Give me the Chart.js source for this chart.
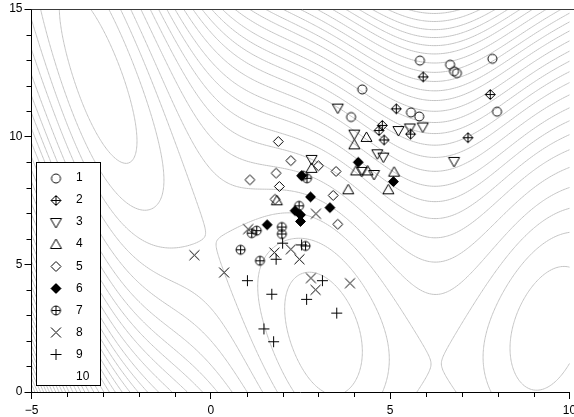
<!DOCTYPE html>
<html>
<head>
<meta charset="utf-8">
<title>Branin contours with sample groups</title>
<script src="https://cdn.jsdelivr.net/npm/chart.js@4.4.1/dist/chart.umd.min.js"></script>
<style>
  html, body { margin: 0; padding: 0; background: #fff; }
  #chart { display: block; }
</style>
</head>
<body>
<canvas id="chart" width="574" height="417"></canvas>
<script>
// sample groups
var s1x = [5.83, 6.67, 6.78, 6.86, 7.85, 4.22, 3.91, 5.58, 5.81, 7.98];
var s1y = [12.98, 12.82, 12.56, 12.49, 13.05, 11.85, 10.77, 10.95, 10.79, 10.98];
var s2x = [5.92, 7.79, 5.17, 4.78, 4.69, 4.83, 7.17, 5.57];
var s2y = [12.34, 11.65, 11.09, 10.44, 10.24, 9.87, 9.96, 10.10];
var s3x = [3.54, 4.00, 5.23, 5.55, 5.91, 2.81, 4.64, 4.81, 4.55, 6.78, 4.21];
var s3y = [11.12, 10.10, 10.24, 10.34, 10.38, 9.11, 9.33, 9.20, 8.52, 9.03, 8.64];
var s4x = [4.34, 4.00, 4.05, 4.37, 5.11, 3.83, 4.95, 2.81, 1.84];
var s4y = [9.97, 9.68, 8.66, 8.66, 8.61, 7.92, 7.92, 8.76, 7.49];
var s5x = [1.88, 2.23, 3.00, 3.49, 1.82, 1.09, 1.91, 1.79, 3.41, 3.54];
var s5y = [9.81, 9.06, 8.86, 8.64, 8.57, 8.31, 8.05, 7.55, 7.70, 6.57];
var s6x = [2.53, 4.11, 5.09, 2.78, 3.32, 2.35, 2.50, 2.50, 1.57];
var s6y = [8.47, 9.00, 8.24, 7.64, 7.22, 7.10, 6.94, 6.68, 6.55];
var s7x = [2.57, 2.68, 2.46, 1.98, 1.98, 1.14, 1.28, 0.83, 1.37, 2.64];
var s7y = [8.47, 8.37, 7.29, 6.46, 6.19, 6.22, 6.32, 5.57, 5.14, 5.72];
var s8x = [2.93, 1.04, -0.46, 0.37, 1.77, 2.23, 2.47, 2.79, 2.92, 3.88];
var s8y = [6.98, 6.38, 5.36, 4.68, 5.46, 5.59, 5.20, 4.46, 4.00, 4.26];
var s9x = [2.00, 1.82, 2.53, 1.02, 1.70, 3.11, 2.67, 3.51, 1.48, 1.75];
var s9y = [5.83, 5.20, 5.76, 4.36, 3.83, 4.36, 3.63, 3.09, 2.47, 1.97];
var s10x = [];
var s10y = [];

var seriesNames = ['1', '2', '3', '4', '5', '6', '7', '8', '9', '10'];
var seriesX = [s1x, s2x, s3x, s4x, s5x, s6x, s7x, s8x, s9x, s10x];
var seriesY = [s1y, s2y, s3y, s4y, s5y, s6y, s7y, s8y, s9y, s10y];
var markerKinds = ['circle', 'diamondPlus', 'triDown', 'triUp', 'diamond', 'diamondFill', 'circlePlus', 'cross', 'plus', 'none'];

var xTicks = [-5, 0, 5, 10];
var yTicks = [0, 5, 10, 15];
var xMinorTicks = [-4, -3, -2, -1, 1, 2, 3, 4, 6, 7, 8, 9];
var yMinorTicks = [1, 2, 3, 4, 6, 7, 8, 9, 11, 12, 13, 14];

// levels of the background contour lines
var contourLevels = [5.5, 12.5, 19.5, 27, 35.5, 44, 52, 60, 68, 76.5, 85, 93, 101, 109,
  117.5, 126, 134, 142, 150, 158.5, 167, 175, 183, 191, 199.5, 208, 216, 224, 232,
  240.5, 249, 257, 265, 273, 281.5, 290, 298, 306];

// Branin test function (the surface drawn as contours)
function branin(x1, x2) {
  var b = 5.1 / (4 * Math.PI * Math.PI);
  var c = 5 / Math.PI;
  var t = 1 / (8 * Math.PI);
  var g = x2 - b * x1 * x1 + c * x1 - 6;
  return g * g + 10 * (1 - t) * Math.cos(x1) + 10;
}

function makeMarker(kind) {
  var cv = document.createElement('canvas');
  cv.width = 15;
  cv.height = 15;
  var g = cv.getContext('2d');
  var c = 7.5;
  g.strokeStyle = '#000';
  g.fillStyle = '#000';
  g.lineWidth = 1;
  g.beginPath();
  if (kind == 'circle' || kind == 'circlePlus') {
    g.arc(c, c, 4.5, 0, Math.PI * 2);
    if (kind == 'circlePlus') {
      g.moveTo(c - 4.5, c); g.lineTo(c + 4.5, c);
      g.moveTo(c, c - 4.5); g.lineTo(c, c + 4.5);
    }
  } else if (kind == 'diamond' || kind == 'diamondFill' || kind == 'diamondPlus') {
    g.moveTo(c, c - 5); g.lineTo(c + 5, c); g.lineTo(c, c + 5); g.lineTo(c - 5, c); g.closePath();
    if (kind == 'diamondFill') g.fill();
    if (kind == 'diamondPlus') {
      g.moveTo(c - 5, c); g.lineTo(c + 5, c);
      g.moveTo(c, c - 5); g.lineTo(c, c + 5);
    }
  } else if (kind == 'triDown') {
    g.moveTo(c - 5.5, c - 4); g.lineTo(c + 5.5, c - 4); g.lineTo(c, c + 5.5); g.closePath();
  } else if (kind == 'triUp') {
    g.moveTo(c - 5.5, c + 4); g.lineTo(c + 5.5, c + 4); g.lineTo(c, c - 5.5); g.closePath();
  } else if (kind == 'cross') {
    g.moveTo(c - 5, c - 5); g.lineTo(c + 5, c + 5);
    g.moveTo(c + 5, c - 5); g.lineTo(c - 5, c + 5);
  } else if (kind == 'plus') {
    g.moveTo(c - 5.5, c); g.lineTo(c + 5.5, c);
    g.moveTo(c, c - 5.5); g.lineTo(c, c + 5.5);
  }
  g.stroke();
  return cv;
}

var markers = markerKinds.map(makeMarker);

var datasets = [];
for (var k = 0; k < seriesNames.length; k++) {
  var pts = seriesX[k].map(function (v, i) { return { x: v, y: seriesY[k][i] }; });
  datasets.push({
    label: seriesNames[k],
    data: pts,
    pointStyle: markers[k],
    pointRadius: 5,
    pointHoverRadius: 5,
    showLine: false
  });
}

var brGrid = null;
var NX = 300, NY = 300;

function buildGrid() {
  brGrid = [];
  for (var j = 0; j <= NY; j++) {
    var row = [];
    for (var i = 0; i <= NX; i++) {
      row.push(branin(-5 + 15 * i / NX, 15 * j / NY));
    }
    brGrid.push(row);
  }
}

// marching squares, drawn through the chart scales
var contourPlugin = {
  id: 'contours',
  beforeDraw: function (chart) {
    if (!brGrid) buildGrid();
    var ctx = chart.ctx, area = chart.chartArea;
    var xs = chart.scales.x, ys = chart.scales.y;
    ctx.save();
    ctx.beginPath();
    ctx.rect(area.left, area.top, chart.width - area.left, area.bottom - area.top);
    ctx.clip();
    ctx.strokeStyle = '#c4c4c4';
    ctx.lineWidth = 1;
    var dx = 15 / NX, dy = 15 / NY;
    function px(v) { return xs.getPixelForValue(v); }
    function py(v) { return ys.getPixelForValue(v); }
    contourLevels.forEach(function (L) {
      ctx.beginPath();
      for (var j = 0; j < NY; j++) {
        for (var i = 0; i < NX; i++) {
          var a = brGrid[j][i], b = brGrid[j][i + 1], c = brGrid[j + 1][i + 1], d = brGrid[j + 1][i];
          var x0 = -5 + i * dx, y0 = j * dy;
          var p = [];
          if ((a - L) * (b - L) < 0) p.push([x0 + dx * (L - a) / (b - a), y0]);
          if ((b - L) * (c - L) < 0) p.push([x0 + dx, y0 + dy * (L - b) / (c - b)]);
          if ((d - L) * (c - L) < 0) p.push([x0 + dx * (L - d) / (c - d), y0 + dy]);
          if ((a - L) * (d - L) < 0) p.push([x0, y0 + dy * (L - a) / (d - a)]);
          for (var q = 0; q + 1 < p.length; q += 2) {
            ctx.moveTo(px(p[q][0]), py(p[q][1]));
            ctx.lineTo(px(p[q + 1][0]), py(p[q + 1][1]));
          }
        }
      }
      ctx.stroke();
    });
    ctx.restore();
  },
  afterDraw: function (chart) {
    var ctx = chart.ctx, area = chart.chartArea;
    var xs = chart.scales.x, ys = chart.scales.y;
    ctx.save();
    // top frame line
    ctx.strokeStyle = '#3a3a3a';
    ctx.lineWidth = 1;
    ctx.beginPath();
    ctx.moveTo(area.left, Math.round(area.top) + 0.5);
    ctx.lineTo(chart.width, Math.round(area.top) + 0.5);
    ctx.stroke();
    // minor ticks
    ctx.strokeStyle = '#000';
    ctx.beginPath();
    xMinorTicks.forEach(function (v) {
      var X = Math.round(xs.getPixelForValue(v)) + 0.5;
      ctx.moveTo(X, area.bottom); ctx.lineTo(X, area.bottom + 5);
    });
    yMinorTicks.forEach(function (v) {
      var Y = Math.round(ys.getPixelForValue(v)) + 0.5;
      ctx.moveTo(area.left, Y); ctx.lineTo(area.left - 5, Y);
    });
    ctx.stroke();

    // legend box
    var lx = 36.5, ly = 162.5, lw = 64, lh = 223;
    ctx.fillStyle = '#fff';
    ctx.fillRect(lx, ly, lw, lh);
    ctx.strokeStyle = '#000';
    ctx.strokeRect(lx, ly, lw, lh);
    ctx.font = '12px "Liberation Sans", Arial, sans-serif';
    ctx.fillStyle = '#000';
    ctx.textBaseline = 'middle';
    ctx.textAlign = 'left';
    for (var k = 0; k < seriesNames.length; k++) {
      var ry = 177.5 + k * 22.05;
      ctx.drawImage(markers[k], 56 - 7.5, Math.round(ry) - 7.5 + 0.5);
      ctx.fillText(seriesNames[k], 76, ry + 0.5);
    }
    ctx.restore();
  }
};

function minusLabel(v) {
  return v < 0 ? '\u2212' + Math.abs(v) : String(v);
}

var ctx = document.getElementById('chart');
var chart = new Chart(ctx, {
  type: 'scatter',
  data: { datasets: datasets },
  plugins: [contourPlugin],
  options: {
    responsive: false,
    animation: false,
    devicePixelRatio: 1,
    layout: { autoPadding: false, padding: { top: 9, right: 4.5, left: 0, bottom: 0 } },
    plugins: {
      legend: { display: false },
      tooltip: { enabled: false }
    },
    scales: {
      x: {
        type: 'linear',
        min: -5,
        max: 10,
        afterBuildTicks: function (scale) { scale.ticks = xTicks.map(function (v) { return { value: v }; }); },
        afterFit: function (scale) {
          scale.height = 25;
          scale.paddingLeft = 0;
          scale.paddingRight = 0;
        },
        grid: { drawOnChartArea: false, drawTicks: true, tickLength: 7, color: '#000', tickColor: '#000' },
        border: { display: true, color: '#000', width: 1 },
        ticks: {
          maxRotation: 0,
          autoSkip: false,
          padding: 4,
          color: '#000',
          font: { family: '"Liberation Sans", Arial, sans-serif', size: 12 },
          callback: function (v) { return minusLabel(v); }
        }
      },
      y: {
        type: 'linear',
        min: 0,
        max: 15,
        afterBuildTicks: function (scale) { scale.ticks = yTicks.map(function (v) { return { value: v }; }); },
        afterFit: function (scale) {
          scale.width = 31.5;
          scale.paddingTop = 0;
          scale.paddingBottom = 0;
        },
        grid: { drawOnChartArea: false, drawTicks: true, tickLength: 7, color: '#000', tickColor: '#000' },
        border: { display: true, color: '#000', width: 1 },
        ticks: {
          padding: 2,
          color: '#000',
          font: { family: '"Liberation Sans", Arial, sans-serif', size: 12 },
          callback: function (v) { return minusLabel(v); }
        }
      }
    }
  }
});
</script>
</body>
</html>
